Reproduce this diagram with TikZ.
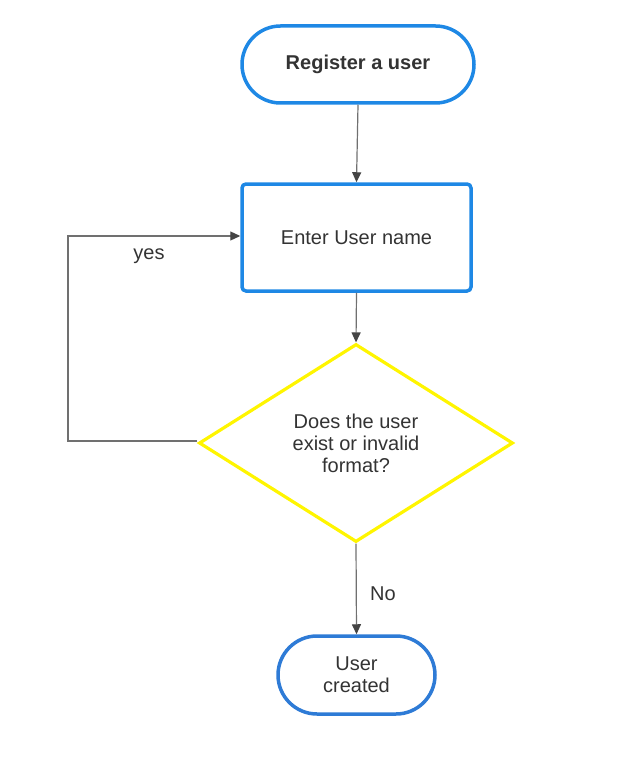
\documentclass[tikz,border=0pt]{standalone}
\usepackage{fontspec}
\setmainfont{Liberation Sans}
\usetikzlibrary{arrows.meta,shapes.geometric}
\definecolor{blueA}{HTML}{1E88E5}
\definecolor{blueB}{HTML}{2E7BD6}
\definecolor{yel}{HTML}{FFF500}
\definecolor{txt}{HTML}{333333}
\definecolor{ln}{HTML}{707070}
\definecolor{tip}{HTML}{444444}
\tikzset{
  lbl/.style={font=\fontsize{20}{22}\selectfont, text=txt, align=center},
  term/.style={lbl, draw=blueA, line width=3.5pt, rounded corners=38.5pt, minimum width=232pt, minimum height=77pt, inner sep=0pt},
  procbox/.style={lbl, draw=blueA, line width=3.5pt, rounded corners=4pt, minimum width=229pt, minimum height=107pt, inner sep=0pt},
  decis/.style={lbl, diamond, draw=yel, line width=3.2pt, minimum width=314pt, minimum height=198pt, inner sep=0pt},
  conn/.style={draw=ln, line width=1.2pt, -{Triangle[length=10pt,width=9pt,color=tip]}},
}
\begin{document}
\begin{tikzpicture}[x=1pt,y=-1pt]
\useasboundingbox (0,0) rectangle (635,770);
\node[term, font=\fontsize{20}{22}\selectfont\bfseries] (reg) at (358,64.5) {Register a user};
\node[procbox] (enter) at (356.5,237.5) {Enter User name};
\node[decis] (dec) at (356,443) {Does the user\\exist or invalid\\format?};
\node[term, draw=blueB, minimum width=157pt, minimum height=78pt, rounded corners=39pt] (done) at (356.5,675) {User\\created};
\coordinate (lp) at (68,441);
\draw[conn] (reg.south) -- (enter.north);
\draw[conn] (enter.south) -- (dec.north);
\draw[conn] (dec.south) -- (done.north);
\draw[conn] ([yshift=2pt]dec.west) -- (lp) |- ([yshift=1.5pt]enter.west);
\node[lbl] (yes) at (149,256) {yes};
\node[lbl] (no) at (383,594) {No};
\end{tikzpicture}
\end{document}
